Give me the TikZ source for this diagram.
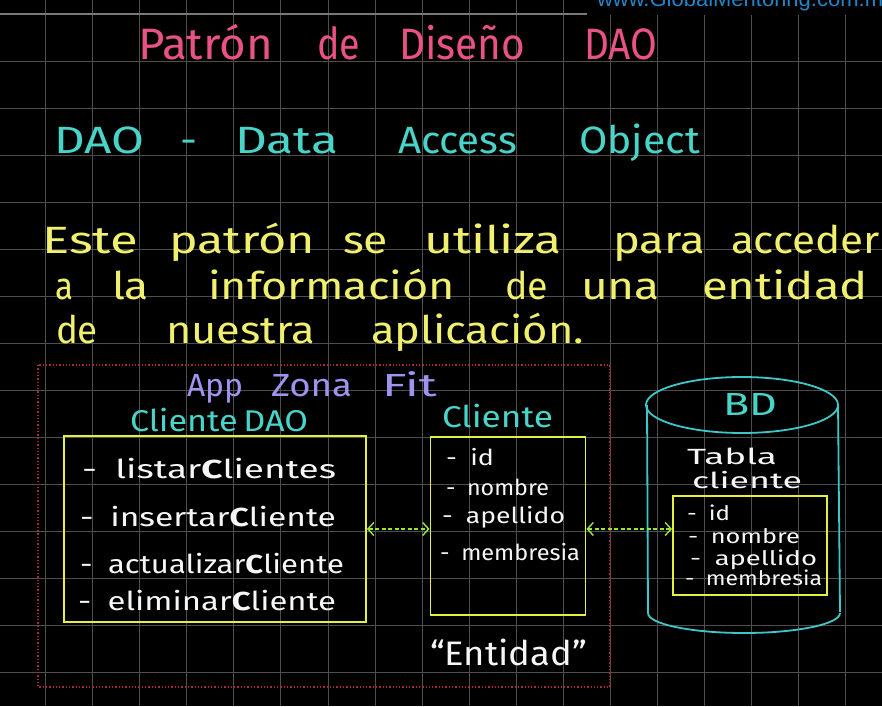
\documentclass[tikz,border=0pt]{standalone}
\usepackage{graphicx}
\usepackage{fontspec}
\setmainfont{Fira Sans}[UprightFont=* Regular, BoldFont=* Bold]
\newfontfamily\wmfont{Liberation Sans}
\usetikzlibrary{arrows.meta}

% colours of the board
\definecolor{board}{RGB}{0,0,0}
\definecolor{gridc}{RGB}{78,78,78}
\definecolor{gridtop}{RGB}{120,120,120}
\definecolor{pinkink}{RGB}{232,82,132}
\definecolor{cyanink}{RGB}{72,212,200}
\definecolor{yellowink}{RGB}{240,240,110}
\definecolor{purpleink}{RGB}{158,148,238}
\definecolor{whiteink}{RGB}{246,246,246}
\definecolor{boxink}{RGB}{228,240,60}
\definecolor{arrowink}{RGB}{150,232,50}
\definecolor{zoneink}{RGB}{170,40,62}
\definecolor{dbink}{RGB}{60,200,200}
\definecolor{wmink}{RGB}{36,132,200}

% set a word and stretch it horizontally to a given width (in pt)
\newsavebox\hwbox
\newcommand\hw[2]{\sbox\hwbox{#2}\pgfmathsetmacro\hwf{#1/(\wd\hwbox)}\scalebox{\hwf}[1]{\usebox\hwbox}}

\tikzset{
  word/.style={anchor=base west, inner sep=0pt, outer sep=0pt},
  titletxt/.style={word, text=pinkink, font=\fontsize{44}{46}\selectfont},
  subtxt/.style={word, text=cyanink, font=\fontsize{38}{40}\selectfont},
  paratxt/.style={word, text=yellowink, font=\fontsize{38}{40}\selectfont},
  apptxt/.style={word, text=purpleink, font=\fontsize{32}{34}\selectfont},
  labeltxt/.style={word, text=cyanink, font=\fontsize{30}{32}\selectfont},
  itemtxt/.style={word, text=whiteink, font=\fontsize{26}{28}\selectfont},
  fieldtxt/.style={word, text=whiteink, font=\fontsize{22}{24}\selectfont},
  smallfield/.style={word, text=whiteink, font=\fontsize{20}{22}\selectfont},
  tabletxt/.style={word, text=whiteink, font=\fontsize{22}{24}\selectfont},
  classbox/.style={draw=boxink, line width=1.8pt, inner sep=0pt, fill=none},
  linkarrow/.style={draw=arrowink, line width=1.6pt, dash pattern=on 4pt off 2.5pt,
    {Straight Barb[length=6pt,width=13pt,line width=1.4pt]}-{Straight Barb[length=6pt,width=13pt,line width=1.4pt]}},
  zone/.style={draw=zoneink, line width=1.4pt, dash pattern=on 1.3pt off 2pt},
  dbline/.style={draw=dbink, line width=1.8pt},
  gridline/.style={draw=gridc, line width=0.8pt},
}

\begin{document}
\begin{tikzpicture}[x=1pt, y=-1pt]
  \useasboundingbox (0,0) rectangle (882,706);
  \clip (0,0) rectangle (882,706);
  \fill[board] (0,0) rectangle (882,706);

  % squared paper
  \foreach \k in {1,...,18} \draw[gridline] ({47.03*\k-1.3},0) -- ({47.03*\k-1.3},706);
  \foreach \j in {1,...,14} \draw[gridline] (0,{14+47*\j}) -- (882,{14+47*\j});
  \draw[draw=gridtop, line width=1.1pt] (0,14) -- (882,14);

  % site banner, top right
  \fill[board] (587,0) rectangle (882,14.6);
  \node[word, text=wmink, font=\wmfont\fontsize{22}{24}\selectfont] (banner) at (597,7) {www.GlobalMentoring.com.mx};

  % heading
  \node[titletxt] (t1) at (138,60) {\hw{135}{Patrón}};
  \node[titletxt] (t2) at (317,60) {\hw{43}{de}};
  \node[titletxt] (t3) at (399,60) {\hw{126}{Diseño}};
  \node[titletxt] (t4) at (584,60) {\hw{73}{DAO}};

  \node[subtxt] (s1) at (54,153) {\hw{90}{DAO}};
  \node[subtxt] (s2) at (180,153) {\hw{17}{-}};
  \node[subtxt] (s3) at (235,153) {\hw{103}{Data}};
  \node[subtxt] (s4) at (398,153) {\hw{119}{Access}};
  \node[subtxt] (s5) at (579,153) {\hw{121}{Object}};

  % description
  \node[paratxt] (p11) at (42,253) {\hw{96}{Este}};
  \node[paratxt] (p12) at (169,253) {\hw{146}{patrón}};
  \node[paratxt] (p13) at (343,253) {\hw{45}{se}};
  \node[paratxt] (p14) at (424,253) {\hw{138}{utiliza}};
  \node[paratxt] (p15) at (613,253) {\hw{92}{para}};
  \node[paratxt] (p16) at (731,253) {\hw{149}{acceder}};
  \node[paratxt] (p21) at (55,299) {\hw{18}{a}};
  \node[paratxt] (p22) at (112,299) {\hw{37}{la}};
  \node[paratxt] (p23) at (208,299) {\hw{247}{información}};
  \node[paratxt] (p24) at (505,299) {\hw{43}{de}};
  \node[paratxt] (p25) at (581,299) {\hw{79}{una}};
  \node[paratxt] (p26) at (702,299) {\hw{166}{entidad}};
  \node[paratxt] (p31) at (56,343) {\hw{42}{de}};
  \node[paratxt] (p32) at (166,343) {\hw{149}{nuestra}};
  \node[paratxt] (p33) at (371,343) {\hw{213}{aplicación.}};

  % application zone
  \draw[zone] (38,365) rectangle (610,687);
  \node[apptxt] (a1) at (187,396) {\hw{56}{App}};
  \node[apptxt] (a2) at (271,396) {\hw{81}{Zona}};
  \node[apptxt] (a3) at (382,396) {\hw{55}{Fit}};

  % ClienteDAO class
  \node[labeltxt] (daolbl) at (130,431) {\hw{178}{Cliente\,DAO}};
  \node[classbox, minimum width=302pt, minimum height=186pt] (dao) at (215,529) {};
  \node[itemtxt] (m1) at (82,478) {\hw{254}{-\enspace listar\textbf{C}lientes}};
  \node[itemtxt] (m2) at (80,526) {\hw{256}{-\enspace insertar\textbf{C}liente}};
  \node[itemtxt] (m3) at (80,573) {\hw{264}{-\enspace actualizar\textbf{C}liente}};
  \node[itemtxt] (m4) at (78,610) {\hw{258}{-\enspace eliminar\textbf{C}liente}};

  % Cliente entity
  \node[labeltxt] (entlbl) at (442,427) {\hw{111}{Cliente}};
  \node[classbox, minimum width=155pt, minimum height=178pt] (ent) at (508,526) {};
  \node[fieldtxt] (e1) at (446,465) {\hw{48}{-\enspace id}};
  \node[fieldtxt] (e2) at (446,495) {\hw{103}{-\enspace nombre}};
  \node[fieldtxt] (e3) at (442,523) {\hw{123}{-\enspace apellido}};
  \node[fieldtxt] (e4) at (440,560) {\hw{140}{-\enspace membresia}};
  \node[word, text=whiteink, font=\fontsize{34}{36}\selectfont] (entcap) at (430,665) {\hw{157}{“Entidad”}};

  % database cylinder
  \draw[dbline] (742,405) ellipse [x radius=96pt, y radius=28pt];
  \draw[dbline] (647,405) -- (648,613);
  \draw[dbline] (838,405) -- (840,612);
  \draw[dbline] (648,613) arc[start angle=180, end angle=360, x radius=96pt, y radius=20pt];
  \node[word, text=cyanink, font=\fontsize{32}{34}\selectfont] (bd) at (723,415) {\hw{54}{BD}};
  \node[tabletxt] (tb1) at (687,464) {\hw{90}{Tabla}};
  \node[tabletxt] (tb2) at (692,488) {\hw{110}{cliente}};

  % client table
  \node[classbox, minimum width=154pt, minimum height=99pt] (tbl) at (750,545.5) {};
  \node[smallfield] (f1) at (687,520) {\hw{43}{-\enspace id}};
  \node[smallfield] (f2) at (688,543) {\hw{112}{-\enspace nombre}};
  \node[smallfield] (f3) at (690,565) {\hw{127}{-\enspace apellido}};
  \node[smallfield] (f4) at (685,585) {\hw{137}{-\enspace membresia}};

  % links
  \coordinate (lk) at (0,529);
  \draw[linkarrow] (dao.east |- lk) -- (ent.west |- lk);
  \draw[linkarrow] (ent.east |- lk) -- (tbl.west |- lk);
\end{tikzpicture}
\end{document}
